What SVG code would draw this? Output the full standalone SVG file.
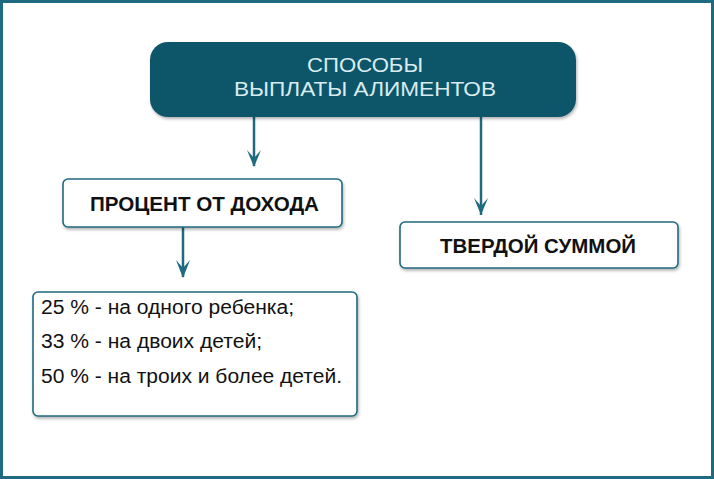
<svg xmlns="http://www.w3.org/2000/svg" width="714" height="479" viewBox="0 0 714 479">
<style>
.box{fill:#fff;stroke:#1f6a80;stroke-width:1.6}
.lbl{font-family:"Liberation Sans",Arial,sans-serif;font-weight:bold;font-size:20px;fill:#111;text-anchor:middle}
.lst{font-family:"Liberation Sans",Arial,sans-serif;font-size:20px;fill:#111}
.top{font-family:"Liberation Sans",Arial,sans-serif;font-size:21px;fill:#d8ecf0;text-anchor:middle}
.con{stroke:#1f6a80;stroke-width:2.5;fill:none}
</style>
<defs>
<filter id="sh" x="-10%" y="-10%" width="120%" height="130%"><feDropShadow dx="1" dy="2" stdDeviation="1.5" flood-opacity="0.3"/></filter>
</defs>
<rect x="1.5" y="1.5" width="711" height="476" fill="#fff" stroke="#1f6a80" stroke-width="3"/>
<g id="connectors">
<line class="con" x1="254" y1="117" x2="254" y2="166"/>
<path d="M247 150 L254 158 L261 150 L254 167 Z" fill="#1f6a80"/>
<line class="con" x1="481" y1="117" x2="481" y2="215"/>
<path d="M474 198 L481 206 L488 198 L481 215 Z" fill="#1f6a80"/>
<line class="con" x1="183" y1="227" x2="183" y2="277"/>
<path d="M176 260 L183 268 L190 260 L183 278 Z" fill="#1f6a80"/>
</g>
<g id="root">
<rect x="150" y="42" width="426" height="75" rx="18" fill="#0d5468" filter="url(#sh)"/>
<text class="top" x="365" y="95" textLength="116" lengthAdjust="spacingAndGlyphs" y-dummy="" dy="-23">СПОСОБЫ</text>
<text class="top" x="365" y="96" textLength="262" lengthAdjust="spacingAndGlyphs">ВЫПЛАТЫ АЛИМЕНТОВ</text>
</g>
<g id="percent">
<rect class="box" x="63" y="179" width="279" height="48" rx="5" filter="url(#sh)"/>
<text class="lbl" x="204.5" y="211" textLength="229" lengthAdjust="spacingAndGlyphs">ПРОЦЕНТ ОТ ДОХОДА</text>
</g>
<g id="fixed">
<rect class="box" x="400" y="222" width="278" height="46" rx="5" filter="url(#sh)"/>
<text class="lbl" x="538" y="253" textLength="196" lengthAdjust="spacingAndGlyphs">ТВЕРДОЙ СУММОЙ</text>
</g>
<g id="list">
<rect class="box" x="33" y="292" width="324" height="124" rx="5" filter="url(#sh)"/>
<text class="lst" x="41" y="314" textLength="253" lengthAdjust="spacingAndGlyphs">25 % - на одного ребенка;</text>
<text class="lst" x="41" y="348" textLength="221" lengthAdjust="spacingAndGlyphs">33 % - на двоих детей;</text>
<text class="lst" x="41" y="383" textLength="301" lengthAdjust="spacingAndGlyphs">50 % - на троих и более детей.</text>
</g>
</svg>
